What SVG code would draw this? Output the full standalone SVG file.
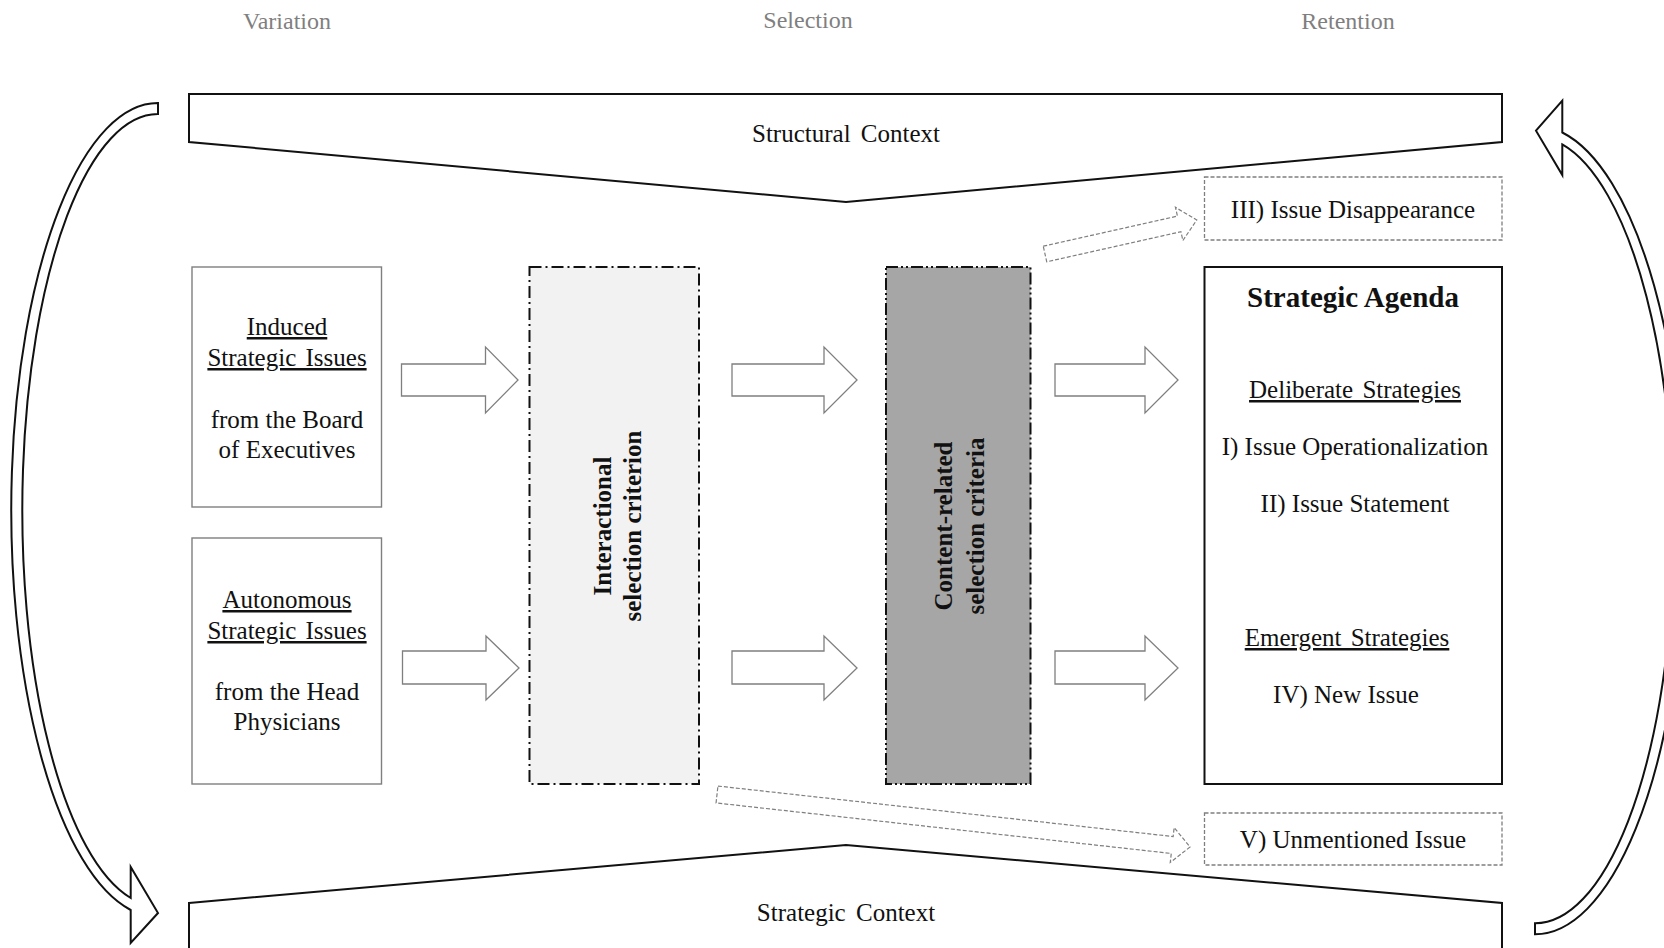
<svg xmlns="http://www.w3.org/2000/svg" width="1664" height="948" viewBox="0 0 1664 948">
  <defs>
    <style>
      text { font-family: "Liberation Serif", "Times New Roman", serif; fill: #111; }
      .phase { font-size: 24px; fill: #7f7f7f; text-anchor: middle; }
      .lbl { font-size: 25px; text-anchor: middle; }
      .ul { text-decoration: underline; word-spacing: 3px; }
      .bold { font-weight: bold; }
      .vert { font-size: 25px; font-weight: bold; text-anchor: middle; }
      .frame { fill: #fff; stroke: #111; stroke-width: 2; }
      .issue { fill: #fff; stroke: #7f7f7f; stroke-width: 1.4; }
      .outcome { fill: #fff; stroke: #7f7f7f; stroke-width: 1.3; stroke-dasharray: 4 2; }
      .block { fill: #fff; stroke: #7f7f7f; stroke-width: 1.3; stroke-linejoin: miter; }
      .dashed { fill: none; stroke: #7f7f7f; stroke-width: 1.2; stroke-dasharray: 4 2; }
      .loop { fill: #fff; stroke: #111; stroke-width: 2; stroke-linejoin: miter; }
    </style>
  </defs>

  <rect width="1664" height="948" fill="#fff"/>

  <!-- phase headings -->
  <g id="phases">
    <text class="phase" x="287" y="29">Variation</text>
    <text class="phase" x="808" y="28">Selection</text>
    <text class="phase" x="1348" y="29">Retention</text>
  </g>

  <!-- context frames -->
  <g id="structural-context">
    <polygon class="frame" points="189,94 1502,94 1502,142 846,202 189,142"/>
    <text class="lbl" x="846" y="142" style="word-spacing:4px">Structural Context</text>
  </g>
  <g id="strategic-context">
    <polygon class="frame" points="189,903 846,845 1502,903 1502,960 189,960"/>
    <text class="lbl" x="846" y="921" style="word-spacing:4px">Strategic Context</text>
  </g>

  <!-- variation: issue sources -->
  <g id="induced-issues">
    <rect class="issue" x="192" y="267" width="189.5" height="240"/>
    <text class="lbl ul" x="287" y="335">Induced</text>
    <text class="lbl ul" x="287" y="366">Strategic Issues</text>
    <text class="lbl" x="287" y="427.5">from the Board</text>
    <text class="lbl" x="287" y="458">of Executives</text>
  </g>
  <g id="autonomous-issues">
    <rect class="issue" x="192" y="538" width="189.5" height="246"/>
    <text class="lbl ul" x="287" y="608">Autonomous</text>
    <text class="lbl ul" x="287" y="639">Strategic Issues</text>
    <text class="lbl" x="287" y="700">from the Head</text>
    <text class="lbl" x="287" y="730">Physicians</text>
  </g>

  <!-- selection criteria -->
  <g id="interactional-criterion">
    <rect x="529.5" y="267" width="169.5" height="517" fill="#f2f2f2" stroke="#111" stroke-width="2" stroke-dasharray="12 4 2 4"/>
    <text class="vert" transform="translate(611 526) rotate(-90)">Interactional</text>
    <text class="vert" transform="translate(641 526) rotate(-90)">selection criterion</text>
  </g>
  <g id="content-criteria">
    <rect x="886" y="267" width="144.5" height="517" fill="#a6a6a6" stroke="#111" stroke-width="2" stroke-dasharray="12 3 2 3 2 3"/>
    <text class="vert" transform="translate(952 526) rotate(-90)">Content-related</text>
    <text class="vert" transform="translate(984 526) rotate(-90)">selection criteria</text>
  </g>

  <!-- retention -->
  <g id="strategic-agenda">
    <rect x="1204.5" y="267" width="297.5" height="517" fill="#fff" stroke="#111" stroke-width="2"/>
    <text class="lbl bold" x="1353" y="307" style="font-size:29px">Strategic Agenda</text>
    <text class="lbl ul" x="1355" y="398">Deliberate Strategies</text>
    <text class="lbl" x="1355" y="455">I) Issue Operationalization</text>
    <text class="lbl" x="1355" y="512">II) Issue Statement</text>
    <text class="lbl ul" x="1347" y="646">Emergent Strategies</text>
    <text class="lbl" x="1346" y="703">IV) New Issue</text>
  </g>
  <g id="issue-disappearance">
    <rect class="outcome" x="1204.5" y="177" width="297.5" height="63"/>
    <text class="lbl" x="1353" y="218">III) Issue Disappearance</text>
  </g>
  <g id="unmentioned-issue">
    <rect class="outcome" x="1204.5" y="813" width="297.5" height="52"/>
    <text class="lbl" x="1353" y="848">V) Unmentioned Issue</text>
  </g>

  <!-- connectors -->
  <g id="connectors">
    <!-- block arrows, upper row -->
    <polygon class="block" points="401.5,364 485.5,364 485.5,347 518,380 485.5,413 485.5,396 401.5,396"/>
    <polygon class="block" points="732,364 824,364 824,347 857,380 824,413 824,396 732,396"/>
    <polygon class="block" points="1055,364 1145,364 1145,347 1178,380 1145,413 1145,396 1055,396"/>
    <!-- block arrows, lower row -->
    <polygon class="block" points="402.5,651 486,651 486,636 519,668 486,700 486,684 402.5,684"/>
    <polygon class="block" points="732,651 824,651 824,636 857,668 824,700 824,684 732,684"/>
    <polygon class="block" points="1055,651 1145,651 1145,636 1178,668 1145,700 1145,684 1055,684"/>

    <!-- dashed arrows to the side outcomes -->
    <polygon class="dashed" transform="translate(1045 254) rotate(-12.63)" points="0,-8 137.5,-8 137.5,-17 155.5,0 137.5,17 137.5,8 0,8"/>
    <polygon class="dashed" transform="translate(717 794.5) rotate(6.33)" points="0,-8.5 458,-8.5 458,-17.5 476,0 458,17.5 458,8.5 0,8.5"/>

    <!-- feedback loops -->
    <path class="loop" d="M158 103 A146.5 407 0 0 0 130.7 910 L130.7 943 L158 913 L130.7 867 L130.7 898 A135.5 396 0 0 1 158 114 Z"/>
    <path class="loop" d="M1535 934.3 A149.5 404.3 0 0 0 1562.3 132.5 L1562.3 100.7 L1536 130.7 L1562.3 175 L1562.3 144.4 A138.5 393.3 0 0 1 1535 923.3 Z"/>
  </g>
</svg>
